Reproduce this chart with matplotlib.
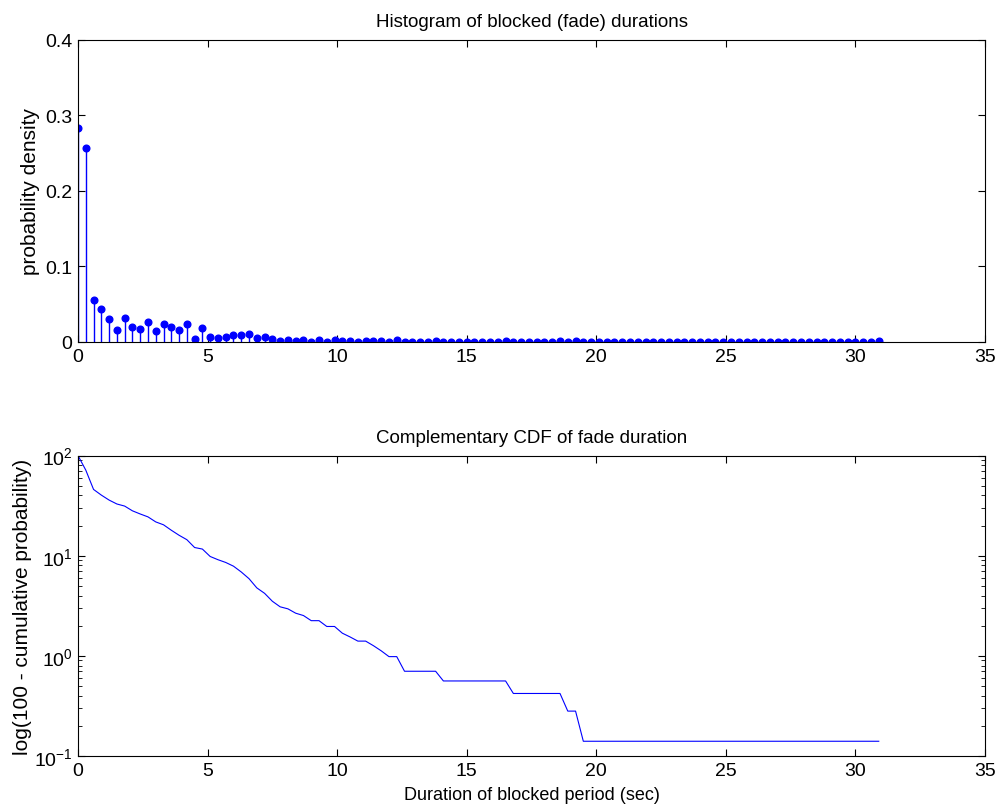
import numpy as np
import matplotlib
matplotlib.use("Agg")
from matplotlib import pyplot as plt

plt.rcParams['font.family'] = ['Liberation Sans', 'DejaVu Sans']
plt.rcParams['mathtext.default'] = 'regular'

# bin width of the histogram (sec)
bin_width = 0.3

# number of fades falling in each 0.3 s bin (bins 0 .. 30.9)
counts = [202, 183, 40, 31, 22, 11, 23, 14, 12, 19,
          10, 17, 14, 11, 17, 3, 13, 5, 4, 5,
          7, 7, 8, 4, 5, 3, 1, 2, 1, 2,
          0, 2, 0, 2, 1, 1, 0, 1, 1, 1,
          0, 2, 0, 0, 0, 0, 1, 0, 0, 0,
          0, 0, 0, 0, 0, 1, 0, 0, 0, 0,
          0, 0, 1, 0, 1, 0, 0, 0, 0, 0,
          0, 0, 0, 0, 0, 0, 0, 0, 0, 0,
          0, 0, 0, 0, 0, 0, 0, 0, 0, 0,
          0, 0, 0, 0, 0, 0, 0, 0, 0, 0,
          0, 0, 0, 1]

counts = np.array(counts, dtype=float)
durations = np.arange(len(counts)) * bin_width
density = counts / counts.sum()
# 100 - cumulative probability up to (not including) each bin
ccdf = 100 * (1 - np.concatenate(([0], np.cumsum(density)[:-1])))

fig = plt.figure(figsize=(10, 8.12), dpi=100)

ax1 = fig.add_axes([0.078, 0.5776, 0.907, 0.372])
markerline, stemlines, baseline = ax1.stem(durations, density, basefmt=' ')
plt.setp(stemlines, color='#0000ff', linewidth=1.0)
plt.setp(markerline, color='#0000ff', markersize=4.8)
ax1.set_xlim(0, 35)
ax1.set_ylim(0, 0.4)
ax1.set_xticks(np.arange(0, 36, 5))
ax1.set_yticks([0, 0.1, 0.2, 0.3, 0.4])
ax1.set_yticklabels(['0', '0.1', '0.2', '0.3', '0.4'])
ax1.set_title("Histogram of blocked (fade) durations", fontsize=13.5, pad=10)
ax1.set_ylabel("probability density", fontsize=15, labelpad=4)

ax2 = fig.add_axes([0.078, 0.0677, 0.907, 0.370])
ax2.semilogy(durations, ccdf, color='#0000ff', linewidth=0.8)
ax2.set_xlim(0, 35)
ax2.set_ylim(0.1, 100)
ax2.set_xticks(np.arange(0, 36, 5))
ax2.set_title("Complementary CDF of fade duration", fontsize=13.5, pad=10)
ax2.set_xlabel("Duration of blocked period (sec)", fontsize=13, labelpad=5)
ax2.set_ylabel("log(100 - cumulative probability)", fontsize=15, labelpad=1)

for ax in (ax1, ax2):
    ax.tick_params(which='both', direction='in', top=True, right=True, labelsize=14)
    ax.tick_params(which='major', length=5, pad=4)
    ax.tick_params(which='minor', length=3)
    for s in ax.spines.values():
        s.set_linewidth(0.8)

plt.savefig("out.png", dpi=100)
